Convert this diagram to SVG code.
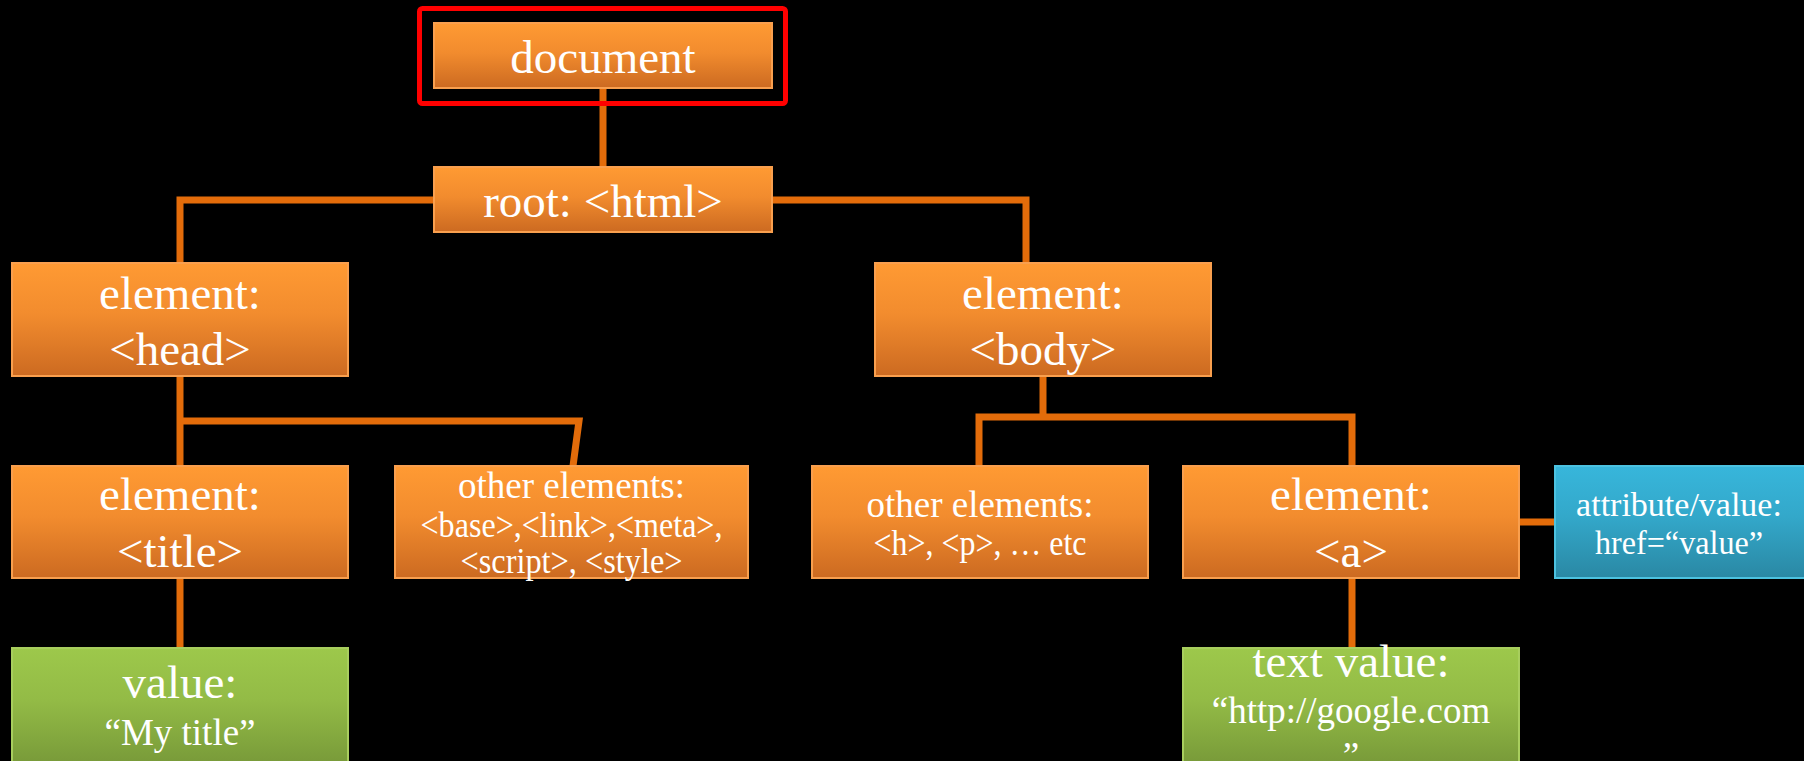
<svg xmlns="http://www.w3.org/2000/svg" width="1804" height="761" viewBox="0 0 1804 761">
<defs>
<linearGradient id="gO" x1="0" y1="0" x2="0" y2="1">
<stop offset="0" stop-color="#FF9A33"/>
<stop offset="0.45" stop-color="#F28C2E"/>
<stop offset="1" stop-color="#CC6A21"/>
</linearGradient>
<linearGradient id="gG" x1="0" y1="0" x2="0" y2="1">
<stop offset="0" stop-color="#9DC84B"/>
<stop offset="0.45" stop-color="#93BB46"/>
<stop offset="1" stop-color="#789A39"/>
</linearGradient>
<linearGradient id="gB" x1="0" y1="0" x2="0" y2="1">
<stop offset="0" stop-color="#37B6DB"/>
<stop offset="0.45" stop-color="#33A8CA"/>
<stop offset="1" stop-color="#2A88A4"/>
</linearGradient>
</defs>
<style>
.o{fill:url(#gO);stroke:#F99F4E;stroke-width:2}
.g{fill:url(#gG);stroke:#A8CE5E;stroke-width:2}
.b{fill:url(#gB);stroke:#4CC2E0;stroke-width:2}
text{font-family:"Liberation Serif","Times New Roman",serif;fill:#FFFFFF;text-anchor:middle}
.L{font-size:47px}
.S{font-size:37px}
.s{font-size:35px}
.A{font-size:34px}
.c{fill:none;stroke:#E36C0A;stroke-width:7}
</style>
<rect width="1804" height="761" fill="#000000"/>
<g id="connectors">
<path class="c" d="M603 89 V167"/>
<path class="c" d="M434 200 H180 V263"/>
<path class="c" d="M772 200 H1026 V263"/>
<path class="c" d="M180 376 V466"/>
<path class="c" d="M180 421 H579 L573 466"/>
<path class="c" d="M1043 376 V417"/>
<path class="c" d="M979 466 V417 H1352 V466"/>
<path class="c" d="M1519 522 H1555"/>
<path class="c" d="M1352 578 V648"/>
<path class="c" d="M180 578 V648"/>
</g>
<g id="document">
<rect class="o" x="434" y="23" width="338" height="65"/>
<text class="L" x="603" y="73">document</text>
</g>
<rect id="highlight" x="419.5" y="8.5" width="366" height="95" rx="3" fill="none" stroke="#FF0000" stroke-width="5"/>
<g id="root">
<rect class="o" x="434" y="167" width="338" height="65"/>
<text class="L" x="603" y="217">root: &lt;html&gt;</text>
</g>
<g id="head">
<rect class="o" x="12" y="263" width="336" height="113"/>
<text class="L" x="180" y="309">element:</text>
<text class="L" x="180" y="365">&lt;head&gt;</text>
</g>
<g id="body">
<rect class="o" x="875" y="263" width="336" height="113"/>
<text class="L" x="1043" y="309">element:</text>
<text class="L" x="1043" y="365">&lt;body&gt;</text>
</g>
<g id="title">
<rect class="o" x="12" y="466" width="336" height="112"/>
<text class="L" x="180" y="510">element:</text>
<text class="L" x="180" y="567">&lt;title&gt;</text>
</g>
<g id="head-others">
<rect class="o" x="395" y="466" width="353" height="112"/>
<text class="S" x="571.5" y="498">other elements:</text>
<text class="s" x="571.5" y="537" textLength="302" lengthAdjust="spacingAndGlyphs">&lt;base&gt;,&lt;link&gt;,&lt;meta&gt;,</text>
<text class="s" x="571.5" y="573" textLength="222" lengthAdjust="spacingAndGlyphs">&lt;script&gt;, &lt;style&gt;</text>
</g>
<g id="body-others">
<rect class="o" x="812" y="466" width="336" height="112"/>
<text class="S" x="980" y="517">other elements:</text>
<text class="s" x="980" y="555" textLength="213" lengthAdjust="spacingAndGlyphs">&lt;h&gt;, &lt;p&gt;, … etc</text>
</g>
<g id="a">
<rect class="o" x="1183" y="466" width="336" height="112"/>
<text class="L" x="1351" y="510">element:</text>
<text class="L" x="1351" y="567">&lt;a&gt;</text>
</g>
<g id="attribute">
<rect class="b" x="1555" y="466" width="252" height="112"/>
<text class="A" x="1679" y="516">attribute/value:</text>
<text class="A" x="1679" y="554" textLength="168" lengthAdjust="spacingAndGlyphs">href=“value”</text>
</g>
<g id="title-value">
<rect class="g" x="12" y="648" width="336" height="116"/>
<text class="L" x="180" y="698">value:</text>
<text class="S" x="180" y="745">“My title”</text>
</g>
<g id="text-value">
<rect class="g" x="1183" y="648" width="336" height="116"/>
<text class="L" x="1351" y="677">text value:</text>
<text class="S" x="1351" y="723">“http://google.com</text>
<text class="S" x="1351" y="768">”</text>
</g>
</svg>
